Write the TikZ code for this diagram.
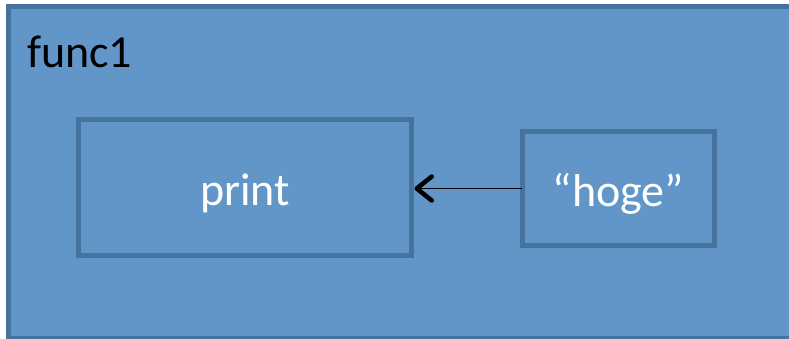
\documentclass[tikz,border=0pt]{standalone}
\usepackage{fontspec}
\setmainfont{Carlito}
\usetikzlibrary{arrows.meta}
\definecolor{boxfill}{RGB}{98,150,201}
\definecolor{boxline}{RGB}{70,114,158}
\tikzset{
  blk/.style={draw=boxline, fill=boxfill, line width=5pt, inner sep=0pt, outer sep=0pt},
  lbl/.style={text=white, font=\fontsize{46}{52}\selectfont, text depth=0pt},
}
\begin{document}
\begin{tikzpicture}[x=1pt,y=-1pt]
\useasboundingbox (0,0) rectangle (789,339);
\fill[boxfill] (8,6.5) rectangle (789,338);
\draw[boxline, line width=5pt] (789,6.5) -- (8,6.5) -- (8,338) -- (789,338);
\node[anchor=base west, font=\fontsize{46}{52}\selectfont, text=black, inner sep=0pt] (title) at (27,68) {func1};
\node[blk, lbl, text height=35pt, minimum width=333pt, minimum height=136pt] (print) at (245,187.5) {print};
\node[blk, lbl, text height=36pt, minimum width=192pt, minimum height=114pt] (hoge) at (618.5,188.5) {“hoge”};
\draw[black, line width=1.8pt, -{Straight Barb[length=15pt,width=24pt,line width=4.5pt,round]}]
  ([xshift=-1pt]hoge.west |- 0,188.5) -- ([xshift=3pt]print.east |- 0,188.5);
\end{tikzpicture}
\end{document}
